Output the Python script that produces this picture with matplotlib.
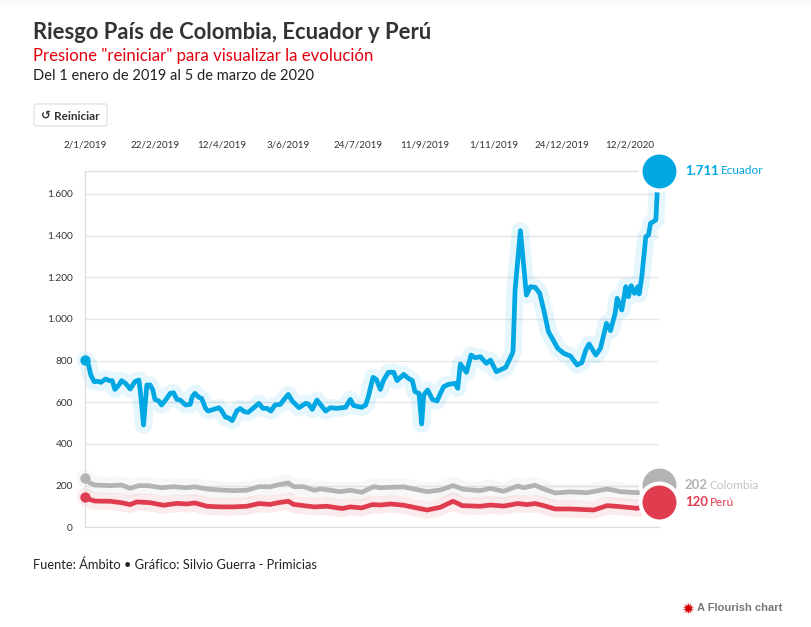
import numpy as np
import matplotlib
matplotlib.use('Agg')
import matplotlib.pyplot as plt
from matplotlib.patches import FancyBboxPatch

# Datos (dias desde el 2/1/2019)
dias_ecuador = [0, 2, 4, 6.5, 9, 11.5, 15, 18, 20, 22, 25, 27, 30, 33.5, 37, 40, 41, 43.5, 45, 46, 48.5, 50.5, 52, 55, 57,
                60, 63.5, 66, 68.5, 71, 75, 78.5, 80, 82, 85, 87, 90, 92, 96, 100, 102, 105, 107, 110, 113.5, 116, 119, 122,
                125.5, 130, 133, 136, 139, 142, 146, 148.5, 152, 155, 160, 165, 167, 170, 173.5, 177, 180, 183.5, 188.5,
                195, 198.5, 201, 207, 210, 212, 215.5, 218, 221, 223.5, 227, 231, 233.5, 238.5, 242, 245, 247, 250, 252,
                253.5, 256.5, 260, 263.5, 266, 268.5, 272, 277, 279, 281, 285.5, 289, 292, 296, 300.5, 303.5, 308, 315,
                320, 320.5, 322, 326, 330.5, 333.5, 337, 340.5, 343.5, 347, 354, 358.5, 363.5, 368.5, 372, 375, 377.5,
                382.5, 386, 390.5, 393.5, 397, 398.5, 402, 405, 407, 409, 411.5, 414, 415, 417, 420, 422, 423.5, 427.5,
                428.5, 429.5]
ecuador = [803, 787, 731, 699, 701, 696, 712, 704, 704, 662, 683, 704, 691, 664, 699, 707, 659, 491, 611, 683, 683, 659, 614,
           606, 587, 611, 643, 646, 614, 611, 587, 590, 627, 643, 624, 619, 571, 558, 566, 574, 560, 528, 526, 512, 560,
           570, 555, 552, 571, 595, 571, 571, 558, 587, 590, 611, 638, 606, 574, 595, 592, 566, 611, 582, 558, 574, 571,
           576, 614, 584, 576, 587, 627, 720, 710, 662, 707, 744, 744, 704, 734, 715, 704, 651, 643, 496, 635, 659, 614,
           606, 643, 675, 686, 691, 667, 784, 744, 827, 814, 819, 787, 803, 747, 768, 835, 851, 1139, 1424, 1115, 1155,
           1152, 1123, 1043, 939, 859, 835, 822, 779, 790, 851, 880, 827, 859, 979, 944, 1027, 1099, 1043, 1155, 1107,
           1160, 1123, 1155, 1120, 1203, 1395, 1403, 1459, 1475, 1603, 1711]

dias_colombia = [0, 3, 7, 18.5, 27, 33.5, 40, 47, 57, 66, 75, 82, 91, 101, 111, 121, 130, 138.5, 143.5, 152, 156, 163.5,
                 171.5, 176, 183.5, 191, 198.5, 207, 216, 221, 228.5, 238.5, 246, 256, 266, 275.5, 283.5, 296, 303.5,
                 313.5, 324, 328.5, 337, 343.5, 352, 363.5, 376, 391, 401, 413.5, 429.5]
colombia = [235, 214, 203, 200, 203, 187, 200, 200, 190, 195, 190, 194, 184, 179, 176, 178, 195, 194, 203, 213, 195, 195,
            178, 184, 178, 171, 178, 168, 195, 190, 192, 194, 184, 171, 179, 200, 182, 176, 187, 173, 198, 190, 202, 184,
            165, 170, 166, 184, 171, 166, 202]

dias_peru = [0, 3, 7, 18.5, 27, 33.5, 38.5, 48.5, 58.5, 68.5, 76, 82, 91, 101, 111, 121, 130, 138.5, 143.5, 152, 156, 163.5,
             171.5, 181, 192.5, 198.5, 207, 215, 221, 228.5, 238.5, 246, 256, 266, 275.5, 282.5, 296, 303.5, 313.5, 324,
             331, 337, 343.5, 352, 363.5, 381, 391, 401, 413.5, 429.5]
peru = [147, 134, 126, 125, 118, 109, 122, 118, 106, 115, 112, 117, 101, 98, 98, 101, 114, 110, 117, 125, 110, 104,
        98, 101, 90, 98, 93, 109, 107, 112, 106, 96, 83, 96, 125, 104, 101, 107, 102, 114, 109, 114, 104, 88, 88, 83, 104,
        99, 91, 120]

fechas = ['2/1/2019', '22/2/2019', '12/4/2019', '3/6/2019', '24/7/2019', '11/9/2019', '1/11/2019', '24/12/2019', '12/2/2020']
dias_fechas = [0, 52, 102, 152, 204, 254, 306, 357, 408]
ticks_y = [0, 200, 400, 600, 800, 1000, 1200, 1400, 1600]

AZUL = '#00a7e3'
GRIS = '#b3b3b3'
ROJO = '#e03c50'
FUENTE = 'Lato'

plt.rcParams['font.family'] = [FUENTE, 'DejaVu Sans']

fig = plt.figure(figsize=(8.12, 6.27), dpi=100)

# Capa en pixeles para titulos, boton y pie
capa = fig.add_axes([0, 0, 1, 1])
capa.imshow(np.linspace(0.965, 1, 10).reshape(-1, 1), cmap='gray', vmin=0, vmax=1,
            extent=[0, 812, 10, 0], aspect='auto')
capa.set_xlim(0, 812)
capa.set_ylim(627, 0)
capa.axis('off')

capa.text(33, 32.5, 'Riesgo País de Colombia, Ecuador y Perú', fontsize=15.8, fontweight='bold', color='#333333', va='center')
capa.text(33, 55.5, 'Presione "reiniciar" para visualizar la evolución', fontsize=12.1, color='#e2000f', va='center')
capa.text(33, 76, 'Del 1 enero de 2019 al 5 de marzo de 2020', fontsize=10.5, color='#222222', va='center')

capa.add_patch(FancyBboxPatch((34, 104), 73, 22, boxstyle='round,pad=0,rounding_size=2',
                              facecolor='white', edgecolor='#dddddd', linewidth=0.8))
capa.text(46, 115.5, '↺', fontsize=8.5, fontweight='bold', color='#333333', ha='center', va='center', family='DejaVu Sans')
capa.text(54, 116, 'Reiniciar', fontsize=8.5, fontweight='bold', color='#333333', va='center')

capa.text(33, 565, 'Fuente: Ámbito • Gráfico: Silvio Guerra - Primicias', fontsize=9.3, color='#222222', va='center')

capa.scatter([688], [608], s=70, marker=(14, 1, 0), color='#d40000', linewidths=0)
capa.text(697, 608, 'A Flourish chart', fontsize=8, fontweight='bold', color='#777777', va='center', family='Liberation Sans')

# Grafico principal
ax = fig.add_axes([85.5 / 812, 1 - 527.3 / 627, 573 / 812, 355.8 / 627])
ax.patch.set_alpha(0)
ax.set_xlim(0, 429.5)
ax.set_ylim(0, 1708)

ax.set_yticks(ticks_y)
ax.set_yticklabels(['0', '200', '400', '600', '800', '1.000', '1.200', '1.400', '1.600'], fontsize=7.3, color='#333333')
ax.set_xticks(dias_fechas)
ax.set_xticklabels(fechas, fontsize=7.1, color='#333333')
ax.xaxis.tick_top()
ax.tick_params(axis='x', length=0, pad=15.5)
ax.tick_params(axis='y', length=0, pad=9)
ax.grid(axis='y', color='#e6e6e6', linewidth=1)
ax.set_axisbelow(True)
for lado in ['right']:
    ax.spines[lado].set_visible(False)
for lado in ['left', 'top', 'bottom']:
    ax.spines[lado].set_color('#dddddd')
    ax.spines[lado].set_linewidth(0.9)

series = [(dias_colombia, colombia, GRIS), (dias_peru, peru, ROJO), (dias_ecuador, ecuador, AZUL)]
for dias, valores, color in series:
    ax.plot(dias, valores, color=color, linewidth=12.5, alpha=0.1, solid_joinstyle='round', solid_capstyle='round', clip_on=False)
    ax.plot(dias, valores, color=color, linewidth=3.4, solid_joinstyle='round', solid_capstyle='round', clip_on=False, zorder=3)
    ax.scatter(dias[0], valores[0], s=55, color=color, linewidths=0, clip_on=False, zorder=3)
    ax.scatter(dias[-1], valores[-1], s=748, color=color, edgecolors='white', linewidths=2.9, clip_on=False, zorder=4)

etiquetas = [('1.711', 'Ecuador', ecuador[-1], AZUL, AZUL, 45),
             ('202', 'Colombia', colombia[-1], '#b3b3b3', '#c4c4c4', 37),
             ('120', 'Perú', peru[-1], ROJO, ROJO, 37)]
for valor, nombre, y, color, color_nombre, dx in etiquetas:
    ax.annotate(valor, (429.5, y), xytext=(19, 0), textcoords='offset points', fontsize=9.5, fontweight='bold',
                color=color, va='center', annotation_clip=False)
    ax.annotate(nombre, (429.5, y), xytext=(dx, 0), textcoords='offset points', fontsize=8.5,
                color=color_nombre, va='center', annotation_clip=False)

plt.savefig('out.png', dpi=100)
